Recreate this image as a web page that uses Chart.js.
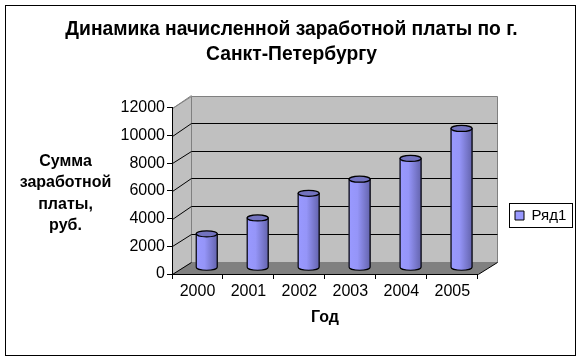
<!DOCTYPE html>
<html><head><meta charset="utf-8">
<script src="https://cdn.jsdelivr.net/npm/chart.js@4"></script>
<style>html,body{margin:0;padding:0;background:#fff}#w{width:583px;height:362px}canvas{display:block}</style>
</head><body><div id="w"><canvas id="c" width="583" height="362"></canvas></div>
<script>
const categories = ['2000','2001','2002','2003','2004','2005'];
const seriesName = 'Ряд1';
const seriesValues = [2450,3600,5380,6400,7900,10070];
const titleLines = ['Динамика начисленной заработной платы по г.','Санкт-Петербургу'];
const yTitleLines = ['Сумма','заработной','платы,','руб.'];
const xTitle = 'Год';
const FONT = '"Liberation Sans", Arial, sans-serif';
const DX = 18.5, DY = -12.5;

function barGradient(c){
  const chart = c.chart;
  if (!chart.chartArea || c.dataIndex === undefined) return '#9999FF';
  const cx = chart.scales.x.getPixelForValue(c.dataIndex);
  const g = chart.ctx.createLinearGradient(cx-10.5,0,cx+10.5,0);
  g.addColorStop(0,'#9999FF'); g.addColorStop(0.4,'#9595F8');
  g.addColorStop(1,'#6464AE');
  return g;
}
const wallPlugin = {
  id:'wall',
  afterLayout(chart){
    const l=chart.legend;
    l.left=510; l.top=203; l.right=573; l.bottom=227;
  },
  beforeDraw(chart){
    const {ctx,chartArea:a,scales:{y}} = chart;
    ctx.save();
    ctx.strokeStyle='#000'; ctx.lineWidth=1;
    ctx.strokeRect(5.5,5.5,570,350);
    const L=a.left+0.5,R=a.right+0.5,T=a.top+0.5,B=a.bottom+0.5;
    const bT=Math.round(T+DY)+0.5,bB=Math.round(B+DY)+0.5,bL=Math.round(L+DX)+0.5,bR=Math.round(R+DX)+0.5;
    ctx.fillStyle='#C0C0C0'; ctx.strokeStyle='#808080'; ctx.lineWidth=1;
    ctx.beginPath();ctx.moveTo(L,B);ctx.lineTo(L,T);ctx.lineTo(bL,bT);ctx.lineTo(bL,bB);ctx.closePath();ctx.fill();ctx.stroke();
    ctx.beginPath();ctx.rect(bL,bT,bR-bL,bB-bT);ctx.fill();ctx.stroke();
    ctx.fillStyle='#808080';
    ctx.beginPath();ctx.moveTo(L,B);ctx.lineTo(R,B);ctx.lineTo(bR,bB);ctx.lineTo(bL,bB);ctx.closePath();ctx.fill();
    y.ticks.forEach(t=>{
      if(t.value===0) return;
      const p0=y.getPixelForValue(t.value);
      const py=Math.round(p0)+0.5, pb=Math.round(p0+DY)+0.5;
      ctx.beginPath();ctx.moveTo(L,py);ctx.lineTo(bL,pb);
      if(t.value<12000) ctx.lineTo(bR,pb);
      ctx.strokeStyle = t.value<12000 ? '#000' : '#808080';
      ctx.stroke();
    });
    ctx.strokeStyle='#000';
    ctx.beginPath();ctx.moveTo(L,B);ctx.lineTo(bL,bB);ctx.moveTo(R,B);ctx.lineTo(bR,bB);ctx.stroke();
    ctx.restore();
  },
  beforeDatasetDraw(chart){ chart.ctx.save(); chart.ctx.translate(DX/2,DY/2); },
  afterDatasetDraw(chart){
    const ctx=chart.ctx, meta=chart.getDatasetMeta(0);
    const ry=3;
    meta.data.forEach((b,i)=>{
      const w=21, x=b.x, y=b.y, base=b.base;
      const g=ctx.createLinearGradient(x-w/2,0,x+w/2,0);
      g.addColorStop(0,'#9999FF'); g.addColorStop(0.4,'#9595F8'); g.addColorStop(1,'#6464AE');
      ctx.fillStyle=g; ctx.strokeStyle='#000'; ctx.lineWidth=1.2;
      ctx.beginPath();
      ctx.moveTo(x-w/2,y);ctx.lineTo(x-w/2,base);
      ctx.ellipse(x,base,w/2,ry,0,Math.PI,0,true);
      ctx.lineTo(x+w/2,y);
      ctx.closePath();ctx.fill();ctx.stroke();
      ctx.fillStyle='#7373BF';
      ctx.beginPath();ctx.ellipse(x,y,w/2,ry,0,0,Math.PI*2);ctx.fill();ctx.stroke();
    });
    ctx.restore();
  },
  afterDraw(chart){
    const {ctx}=chart;
    ctx.save();
    ctx.fillStyle='#000';ctx.font='bold 16px '+FONT;ctx.textAlign='center';ctx.textBaseline='middle';
    yTitleLines.forEach((s,i)=>ctx.fillText(s,65.5,161.5+i*21.3));
    const lg=chart.legend;
    ctx.strokeStyle='#000';ctx.lineWidth=1;
    ctx.strokeRect(lg.left-0.5,lg.top+0.5,63,24);
    ctx.restore();
  }
};
new Chart(document.getElementById('c'),{
  type:'bar',
  data:{labels:categories,datasets:[{label:seriesName,data:seriesValues,backgroundColor:barGradient,barThickness:21}]},
  plugins:[wallPlugin],
  options:{
    responsive:false,animation:false,
    layout:{padding:0},
    plugins:{
      tooltip:{enabled:false},
      title:{display:true,text:titleLines,color:'#000',font:{family:FONT,size:19.3,weight:'bold',lineHeight:1.295},padding:{top:17.5,bottom:40.5}},
      legend:{position:'right',align:'start',labels:{color:'#000',boxWidth:9,boxHeight:9,padding:5,font:{family:FONT,size:15},
        generateLabels(){return [{text:seriesName,fillStyle:'#9999FF',strokeStyle:'#000',lineWidth:1}];}}}
    },
    scales:{
      x:{grid:{color:'#000',drawOnChartArea:false,tickLength:5,offset:true},border:{color:'#000'},
        ticks:{color:'#000',font:{family:FONT,size:16},maxRotation:0,padding:3},
        title:{display:true,text:xTitle,color:'#000',font:{family:FONT,size:16,weight:'bold'},padding:{top:5,bottom:35}},
        afterFit(s){s.height=88;}},
      y:{min:0,max:12000,grid:{color:'#000',drawOnChartArea:false,tickLength:5},border:{color:'#000'},
        ticks:{stepSize:2000,color:'#000',font:{family:FONT,size:16},padding:2,callback:v=>String(v)},
        afterFit(s){s.width=172;}},
      spacer:{axis:'y',position:'right',display:true,grid:{display:false},border:{display:false},ticks:{display:false},
        afterFit(s){s.width=39;}}
    }
  }
});
</script></body></html>
